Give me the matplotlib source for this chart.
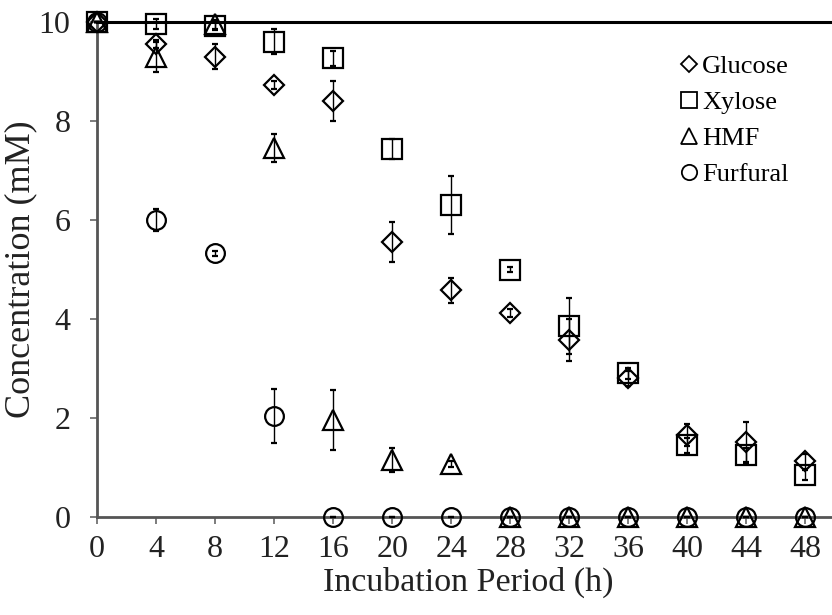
import matplotlib
matplotlib.use("Agg")
import matplotlib.pyplot as plt
from matplotlib.lines import Line2D

hours = [0, 4, 8, 12, 16, 20, 24, 28, 32, 36, 40, 44, 48]
glucose = [10, 9.55, 9.3, 8.72, 8.4, 5.56, 4.58, 4.12, 3.58, 2.8, 1.65, 1.52, 1.13]
glucose_err = [0, 0.08, 0.25, 0.08, 0.4, 0.4, 0.25, 0.08, 0.42, 0.15, 0.22, 0.4, 0.15]
xylose = [10, 9.96, 9.92, 9.6, 9.27, 7.44, 6.3, 5.0, 3.86, 2.9, 1.45, 1.25, 0.85]
xylose_err = [0, 0.1, 0.08, 0.25, 0.15, 0.2, 0.58, 0.05, 0.56, 0.12, 0.15, 0.15, 0.1]
hmf = [10, 9.3, 9.95, 7.45, 1.96, 1.15, 1.07, 0, 0, 0, 0, 0, 0]
hmf_err = [0, 0.3, 0.1, 0.28, 0.6, 0.25, 0.06, 0, 0, 0, 0, 0, 0]
furfural = [10, 6.0, 5.33, 2.04, 0, 0, 0, 0, 0, 0, 0, 0, 0]
furfural_err = [0, 0.22, 0.05, 0.55, 0, 0, 0, 0, 0, 0, 0, 0, 0]

series = [
    ("Glucose", glucose, glucose_err, "D", 10.5, 8.5),
    ("Xylose", xylose, xylose_err, "s", 14, 11.5),
    ("HMF", hmf, hmf_err, "^", 15, 12),
    ("Furfural", furfural, furfural_err, "o", 13.5, 11),
]

plt.rcParams["font.family"] = ["Liberation Serif", "DejaVu Serif"]

fig = plt.figure(figsize=(8.32, 6.15), dpi=100)
ax = fig.add_axes([0.1166, 0.1593, 0.8834, 0.8049])

handles = []
for name, vals, errs, mk, ms, lms in series:
    ax.errorbar(hours, vals, yerr=errs, fmt=mk, ms=ms, mfc="none", mec="black",
                mew=1.6, ecolor="black", elinewidth=1.0, capsize=2.5, capthick=1.0,
                zorder=3, clip_on=False)
    handles.append(Line2D([], [], marker=mk, ls="none", mfc="none", mec="black",
                          mew=1.3, ms=lms, label=name))

ax.set_xlim(0, 49.8)
ax.set_ylim(0, 10)
ax.set_xticks(hours)
ax.set_yticks([0, 2, 4, 6, 8, 10])
ax.tick_params(axis="both", labelsize=23, colors="#666666", labelcolor="#222222",
               length=5, width=1.2, direction="out")
ax.tick_params(axis="x", pad=8)
ax.tick_params(axis="y", pad=14)

ax.spines["right"].set_visible(False)
ax.spines["top"].set_color("black")
ax.spines["top"].set_linewidth(2.2)
for s in ["left", "bottom"]:
    ax.spines[s].set_color("#555555")
    ax.spines[s].set_linewidth(2.0)

ax.set_xlabel("Incubation Period (h)", fontsize=24.5, color="#222222")
ax.xaxis.set_label_coords(0.505, -0.1)
ax.set_ylabel("Concentration (mM)", fontsize=26, color="#222222")
ax.yaxis.set_label_coords(-0.0816, 0.5)

leg = ax.legend(handles=handles, loc="upper right", bbox_to_anchor=(0.956, 0.955),
                frameon=False, fontsize=19, handlelength=0.75, handletextpad=0.12,
                labelspacing=0.47, borderaxespad=0)

fig.savefig("out.png", dpi=100)
